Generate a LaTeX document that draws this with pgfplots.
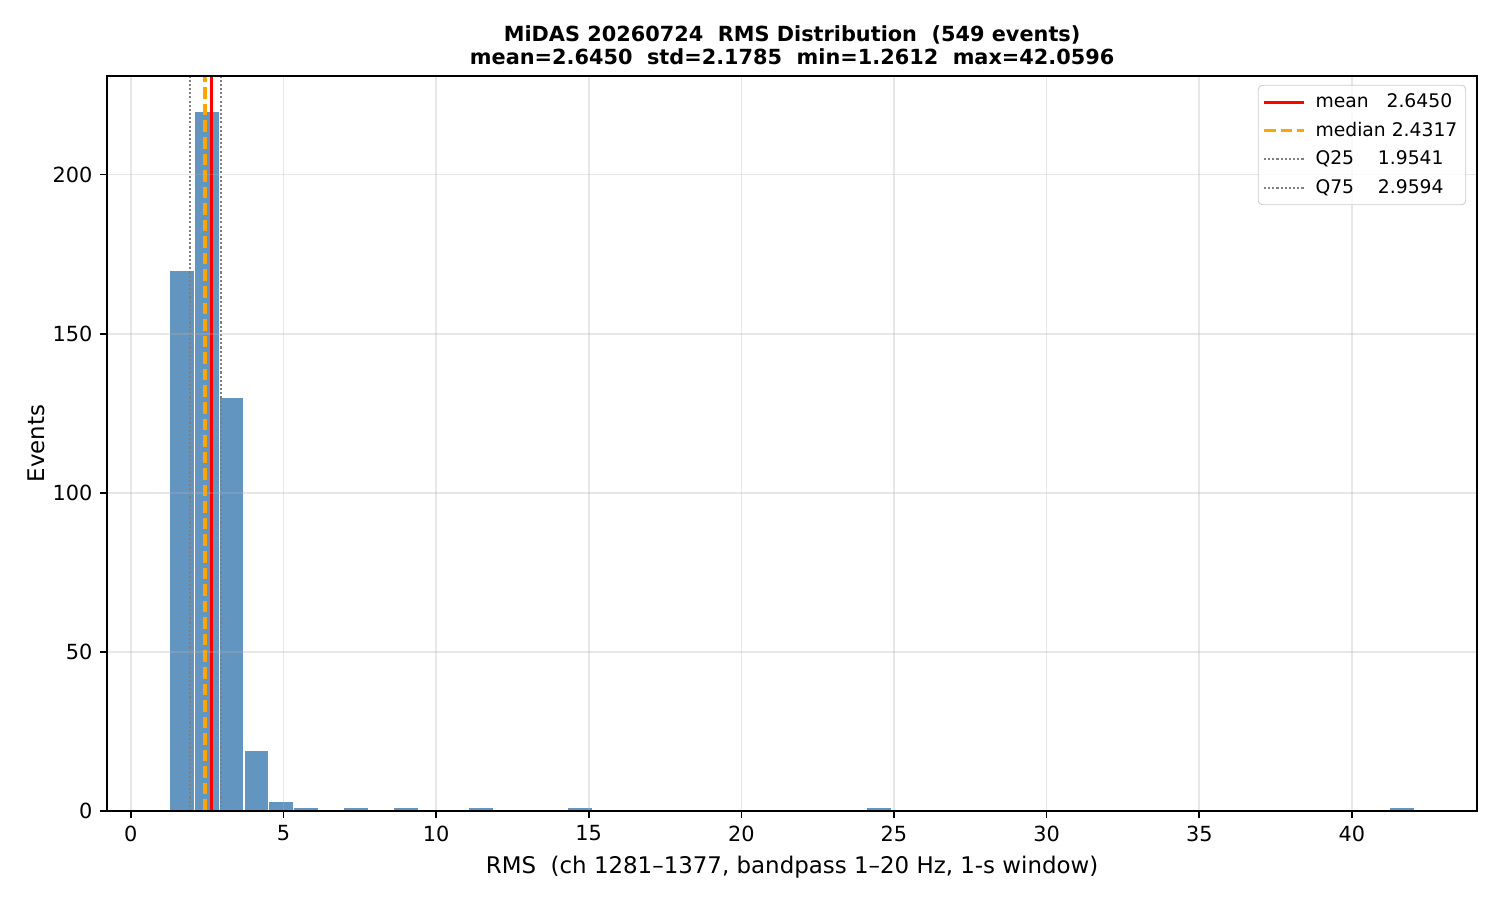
\documentclass[border=0pt]{standalone}
\usepackage{pgfplots}
\pgfplotsset{compat=1.18}
\usepackage{fontspec}
\setmainfont{DejaVu Sans}
\definecolor{barblue}{RGB}{98,149,191}
\definecolor{medorange}{RGB}{255,165,0}
\definecolor{gridgray}{RGB}{176,176,176}
\definecolor{qgray}{RGB}{128,128,128}
\begin{document}
\begin{tikzpicture}
\useasboundingbox (0,0) rectangle (720pt,432pt);
\begin{axis}[
  at={(51.4pt,42.72pt)}, anchor=south west,
  scale only axis, width=657.6pt, height=352.8pt,
  xmin=-0.776, xmax=44.10, ymin=0, ymax=231,
  xtick={0,5,...,40}, ytick={0,50,...,200},
  tick align=outside, major tick length=3.5pt,
  tick style={black, line width=0.8pt},
  xtick pos=bottom, ytick pos=left,
  axis line style={black, line width=0.8pt},
  grid=major, grid style={gridgray, opacity=0.3, line width=0.8pt},
  axis on top,
  /pgf/number format/assume math mode=true,
  ticklabel style={font=\fontsize{10}{12}\selectfont},
  xlabel={RMS\ \ (ch 1281–1377, bandpass 1–20 Hz, 1-s window)},
  ylabel={Events},
  label style={font=\fontsize{11}{13}\selectfont},
  ylabel style={yshift=-3pt},
  title={MiDAS 20260724\ \ RMS Distribution\ \ (549 events)\\mean=2.6450\ \ std=2.1785\ \ min=1.2612\ \ max=42.0596},
  title style={font=\bfseries\fontsize{10}{11}\selectfont, align=center, at={(0.5,1)}, anchor=south, yshift=-4pt},
  legend style={at={(0.992,0.988)}, anchor=north east, draw={rgb,255:red,204;green,204;blue,204}, rounded corners=2pt, fill=white, fill opacity=0.8, text opacity=1, font=\fontsize{9}{11}\selectfont, cells={anchor=west}, inner xsep=2pt, inner ysep=2pt, row sep=1.5pt, /tikz/every odd column/.append style={column sep=3pt}},
  legend image code/.code={\draw[#1] (-1pt,0pt) -- (18pt,0pt);},
]
\addplot[ybar, bar width=0.815968, bar shift=0pt, fill=barblue, draw=white, line width=0.5pt, forget plot] coordinates {
(1.6692,170) (2.4852,220) (3.3011,130) (4.1171,19) (4.9331,3) (5.7490,1)
(7.3810,1) (9.0129,1) (11.4608,1) (14.7247,1) (24.5163,1) (41.6516,1)
};
\addplot[red, line width=1.5pt] coordinates {(2.6450,0) (2.6450,231)};
\addlegendentry{mean\ \ \ 2.6450}
\addplot[medorange, line width=1.5pt, dash pattern=on 5.55pt off 2.4pt] coordinates {(2.4317,0) (2.4317,231)};
\addlegendentry{median 2.4317}
\addplot[qgray, line width=1pt, dash pattern=on 1pt off 1pt] coordinates {(1.9541,0) (1.9541,231)};
\addlegendentry{Q25\ \ \ \ 1.9541}
\addplot[qgray, line width=1pt, dash pattern=on 1pt off 1pt] coordinates {(2.9594,0) (2.9594,231)};
\addlegendentry{Q75\ \ \ \ 2.9594}
\end{axis}
\end{tikzpicture}
\end{document}
